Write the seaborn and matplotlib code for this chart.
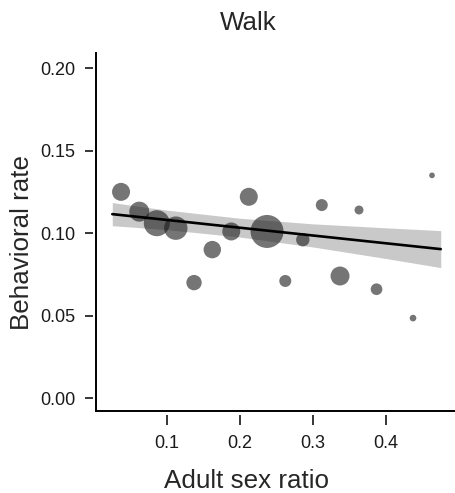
import matplotlib
matplotlib.use('Agg')
import matplotlib.pyplot as plt
import numpy as np
import pandas as pd
import seaborn as sns

# Values
sex_ratio = [0.037, 0.062, 0.086, 0.112, 0.137, 0.162, 0.188, 0.212, 0.237,
             0.262, 0.286, 0.312, 0.337, 0.363, 0.387, 0.437, 0.463]
walk_rate = [0.125, 0.113, 0.106, 0.103, 0.070, 0.090, 0.101, 0.122, 0.101,
             0.071, 0.096, 0.117, 0.074, 0.114, 0.066, 0.0485, 0.135]
n_obs = [81, 100, 169, 137, 59, 76, 81, 81, 272, 36, 45, 36, 90, 20, 34, 11, 8]

# fitted model line and its 95% band
fit_x = [0.025, 0.475]
fit_y = [0.1115, 0.0903]
band_x = [0.025, 0.1, 0.2, 0.3, 0.4, 0.475]
band_lo = [0.1045, 0.1021, 0.0976, 0.0916, 0.0846, 0.0791]
band_hi = [0.1185, 0.1139, 0.1090, 0.1056, 0.1032, 0.1015]

y_ticks = [0.00, 0.05, 0.10, 0.15, 0.20]
x_ticks = [0.1, 0.2, 0.3, 0.4]

df = pd.DataFrame({'asr': sex_ratio, 'rate': walk_rate, 'n': n_obs})

sns.set_style('white')
plt.rcParams['font.family'] = ['Liberation Sans', 'DejaVu Sans']

fig = plt.figure(figsize=(4.55, 4.93), dpi=100)
ax = fig.add_axes([0.211, 0.166, 0.789, 0.726])

# band first, then the points, then the fit line on top
ax.fill_between(band_x, band_lo, band_hi, color='#c9c9c9', lw=0, zorder=1)
sns.scatterplot(data=df, x='asr', y='rate', size='n', sizes=(16.6, 564),
                color='#1a1a1a', alpha=0.6, edgecolor='none', legend=False,
                ax=ax, zorder=2)
sns.lineplot(x=fit_x, y=fit_y, color='black', lw=1.9, ax=ax, zorder=3)

ax.set_xlim(0.0027, 0.4945)
ax.set_ylim(-0.0079, 0.209)
ax.set_xticks(x_ticks)
ax.set_xticklabels([f'{v:.1f}' for v in x_ticks])
ax.set_yticks(y_ticks)
ax.set_yticklabels([f'{v:.2f}' for v in y_ticks])

# axis lines drawn at the edge, ticks offset a little outward
for side in ['top', 'right']:
    ax.spines[side].set_visible(False)
for side in ['left', 'bottom']:
    ax.spines[side].set_position(('outward', 2.5))
    ax.spines[side].set_visible(False)
ax.plot([0, 0], [0, 1], transform=ax.transAxes, color='black', lw=1.4,
        clip_on=False, solid_capstyle='projecting')
ax.plot([0, 1], [0, 0], transform=ax.transAxes, color='black', lw=1.4,
        clip_on=False, solid_capstyle='projecting')

ax.tick_params(axis='x', length=7, width=1.1, pad=8, labelsize=13,
               bottom=True, colors='black')
ax.tick_params(axis='y', length=5.5, width=1.1, pad=7, labelsize=13,
               left=True, colors='black')
for lab in ax.get_xticklabels() + ax.get_yticklabels():
    lab.set_color('#1a1a1a')

ax.set_xlabel('Adult sex ratio', fontsize=18.7)
ax.set_ylabel('Behavioral rate', fontsize=18.7)
ax.xaxis.set_label_coords(0.42, -0.196)
ax.yaxis.set_label_coords(-0.206, 0.47)
ax.xaxis.label.set_va('center')
ax.yaxis.label.set_va('center')

fig.text(248 / 455, 1 - 23 / 493, 'Walk', ha='center', va='center',
         fontsize=18.7)

ax.grid(False)
fig.savefig('out.png', dpi=100)
